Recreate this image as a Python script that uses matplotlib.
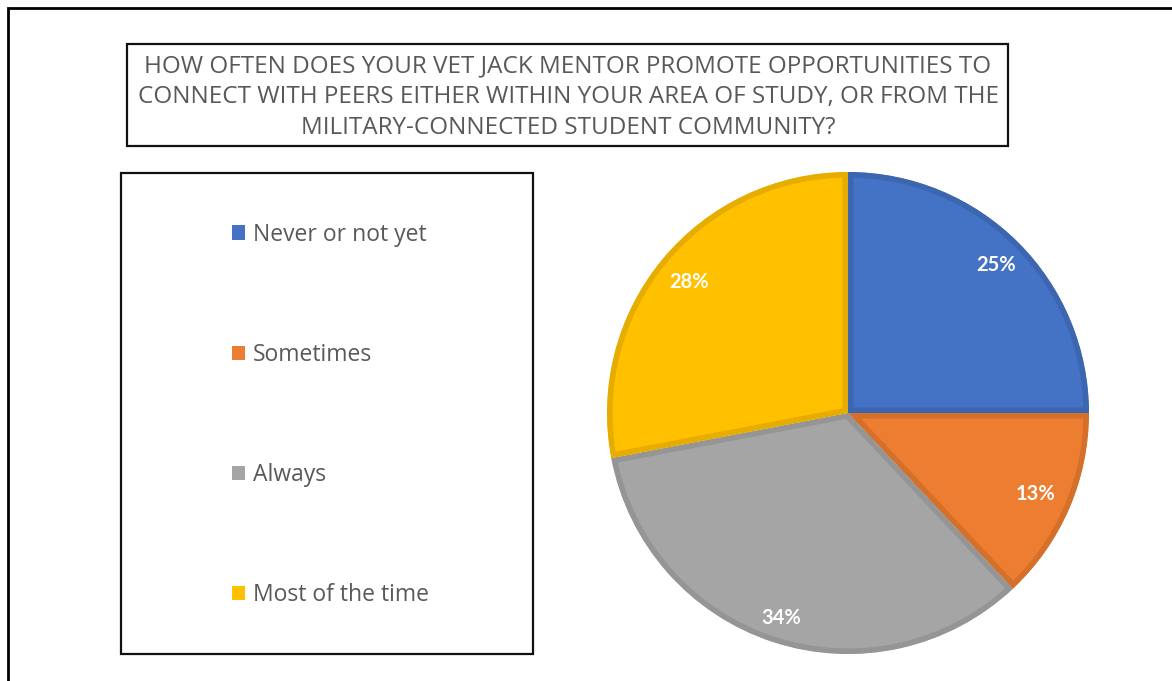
import matplotlib
matplotlib.use("Agg")
import matplotlib.pyplot as plt
import numpy as np
from matplotlib.patches import Rectangle, Patch

categories = ["Never or not yet", "Sometimes", "Always", "Most of the time"]
shares = [25, 13, 34, 28]
colors = ["#4472C4", "#ED7D31", "#A5A5A5", "#FFC000"]
edges = ["#3D66B0", "#D5702B", "#959595", "#E6AD00"]
label_dist = [0.87, 0.85, 0.895, 0.855]
title = ("HOW OFTEN DOES YOUR VET JACK MENTOR PROMOTE OPPORTUNITIES TO\n"
         "CONNECT WITH PEERS EITHER WITHIN YOUR AREA OF STUDY, OR FROM THE\n"
         "MILITARY-CONNECTED STUDENT COMMUNITY?")

W, H = 1172, 681
fig = plt.figure(figsize=(W/100, H/100), dpi=100)
fig.patch.set_facecolor("white")

# background layer in pixel coordinates for the frames and text
bg = fig.add_axes([0, 0, 1, 1])
bg.set_xlim(0, W)
bg.set_ylim(H, 0)
bg.axis("off")

bg.plot([8, 8, W + 5], [H + 5, 8, 8], color="black", lw=2, solid_joinstyle="miter")
bg.add_patch(Rectangle((127, 44), 881, 102, fill=False, ec="#111111", lw=1.6))
bg.add_patch(Rectangle((121, 173), 412, 481, fill=False, ec="#111111", lw=1.6))
bg.text(568, 97, title, ha="center", va="center", color="#595959",
        fontsize=17.5, family="Open Sans", linespacing=1.37)

# pie
ax = fig.add_axes([(848 - 241)/W, (H - 413 - 241)/H, 482/W, 482/H])
wedges, texts, autotexts = ax.pie(shares, colors=colors, startangle=90, counterclock=False,
                                  autopct="%d%%", pctdistance=0.86,
                                  textprops=dict(color="white", fontsize=14.5, fontweight="bold",
                                                 family="Lato"))
# darker rim drawn only on the inside of each slice
for w, ec in zip(wedges, edges):
    w.set_edgecolor(ec)
    w.set_linewidth(8)
    w.set_clip_on(True)
    w.set_clip_path(w)
# per-slice label radius
for w, t, d in zip(wedges, autotexts, label_dist):
    a = np.deg2rad((w.theta1 + w.theta2) / 2)
    t.set_position((d * np.cos(a), d * np.sin(a)))
ax.set_xlim(-1, 1)
ax.set_ylim(-1, 1)
ax.set_aspect("equal")

handles = [Patch(fc=c, ec="none") for c in colors]
leg = bg.legend(handles, categories, loc="upper left", bbox_to_anchor=(211/W, 1 - 202/H),
                bbox_transform=fig.transFigure, frameon=False,
                labelspacing=4.2, handlelength=0.57, handleheight=0.57, handletextpad=0.35,
                prop=dict(family="Open Sans", size=16.5))
for t in leg.get_texts():
    t.set_color("#595959")

fig.savefig("out.png", dpi=100)
